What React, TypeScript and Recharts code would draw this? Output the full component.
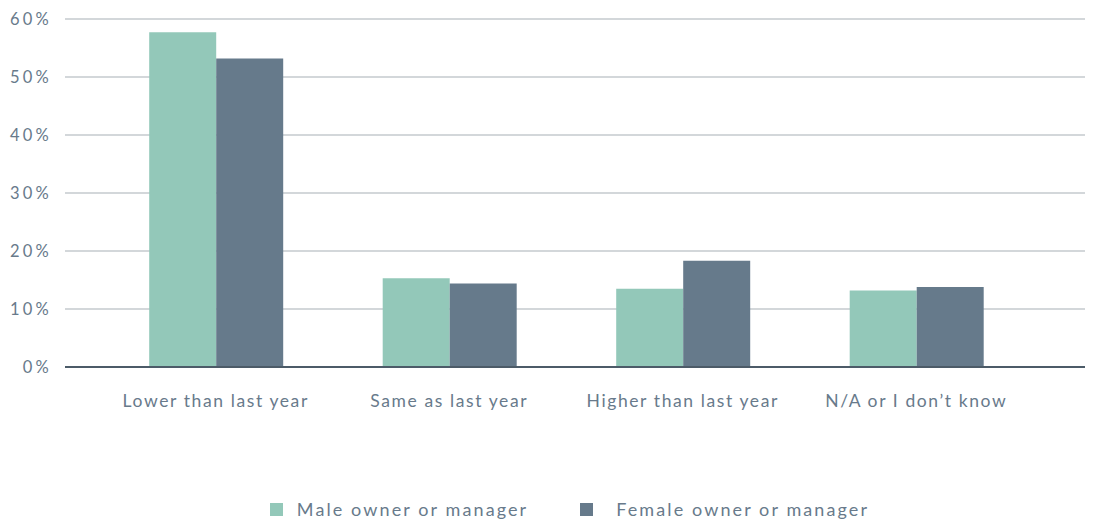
import React from "react";
import { BarChart, Bar, XAxis, YAxis, CartesianGrid, Legend } from "recharts";

const categories = ["Lower than last year", "Same as last year", "Higher than last year", "N/A or I don\u2019t know"];
const maleValues = [57.7, 15.3, 13.5, 13.2];
const femaleValues = [53.2, 14.4, 18.3, 13.8];
const yTicks = [0, 10, 20, 30, 40, 50, 60];

const data = categories.map((c, i) => ({ name: c, male: maleValues[i], female: femaleValues[i] }));

const MALE = "#93c8b9";
const FEMALE = "#667a8b";
const TEXT = "#687a8b";
const FONT = "Lato, 'Open Sans', sans-serif";

const LegendContent = () => (
  <div style={{ display: "flex", justifyContent: "center", alignItems: "center", fontFamily: FONT, fontSize: 18, color: TEXT, letterSpacing: 2.1, height: 24, paddingLeft: 54 }}>
    <div style={{ display: "flex", alignItems: "center", marginRight: 52 }}>
      <span style={{ width: 13, height: 13, background: MALE, display: "inline-block", marginRight: 14 }} />
      <span>Male owner or manager</span>
    </div>
    <div style={{ display: "flex", alignItems: "center" }}>
      <span style={{ width: 13, height: 13, background: FEMALE, display: "inline-block", marginRight: 23 }} />
      <span>Female owner or manager</span>
    </div>
  </div>
);

export default function App() {
  return (
    <div style={{ position: "absolute", left: 0, top: 0, width: 1095, height: 523, background: "#fff" }}>
      <BarChart width={1095} height={523} data={data} margin={{ top: 19, right: 10, bottom: 0, left: 0 }} barCategoryGap="21.5%" barGap={0}>
        <CartesianGrid vertical={false} stroke="#d3d7da" strokeWidth={2} />
        <XAxis
          dataKey="name"
          height={130}
          tickLine={false}
          axisLine={{ stroke: "#4c5b68", strokeWidth: 2 }}
          tick={{ fill: TEXT, fontSize: 17.5, fontFamily: FONT, letterSpacing: 1.6 }}
          tickMargin={22}
          padding={{ left: 34, right: 52 }}
          interval={0}
        />
        <YAxis
          width={65}
          domain={[0, 60]}
          ticks={yTicks}
          tickFormatter={(v) => `${v}%`}
          axisLine={false}
          tickLine={false}
          tick={{ fill: TEXT, fontSize: 16.5, fontFamily: FONT, letterSpacing: 3.2 }}
          tickMargin={7}
        />
        <Legend verticalAlign="bottom" content={<LegendContent />} wrapperStyle={{ bottom: 0 }} height={26} />
        <Bar dataKey="male" fill={MALE} isAnimationActive={false} />
        <Bar dataKey="female" fill={FEMALE} isAnimationActive={false} />
      </BarChart>
    </div>
  );
}
